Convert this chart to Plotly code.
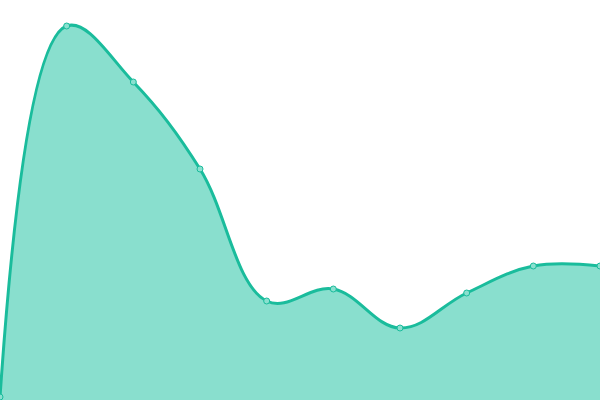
import plotly.graph_objects as go

# Sample points (evenly spaced) and their heights
x_pos = [0, 1, 2, 3, 4, 5, 6, 7, 8, 9]
values = [3, 374, 318, 231, 99, 111, 72, 107, 134, 134]

fig = go.Figure(go.Scatter(
    x=x_pos,
    y=values,
    mode="lines+markers",
    line={"color": "#1abc9c", "width": 3, "shape": "spline", "smoothing": 1.1},
    marker={"size": 6, "color": "#8ae0cf", "line": {"color": "#1abc9c", "width": 1}},
    fill="tozeroy",
    fillcolor="#89dfce",
))

fig.update_layout(
    width=600,
    height=400,
    margin={"l": 0, "r": 0, "t": 0, "b": 0},
    paper_bgcolor="white",
    plot_bgcolor="white",
    showlegend=False,
    xaxis={"visible": False, "range": [0, 9]},
    yaxis={"visible": False, "range": [0, 400]},
)

# drop the page's default body margin so the chart sits at the window corner
fig.write_html(
    "out.html",
    config={"displayModeBar": False},
    post_script="document.body.style.margin='0';document.body.style.overflow='hidden';",
)
